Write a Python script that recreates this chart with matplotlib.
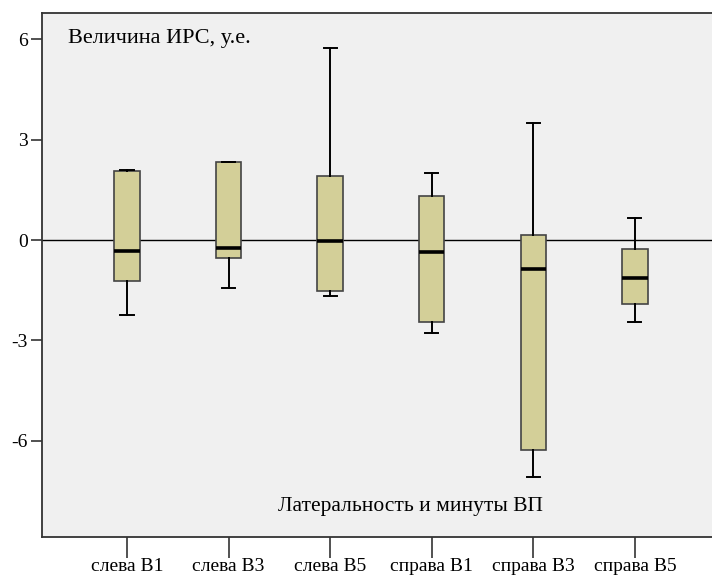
import matplotlib.pyplot as plt

# Box statistics (IRS value, arbitrary units)
categories = ["слева В1", "слева В3", "слева В5", "справа В1", "справа В3", "справа В5"]
whisker_low = [-2.24, -1.43, -1.67, -2.78, -7.07, -2.45]
q1 = [-1.22, -0.54, -1.52, -2.45, -6.27, -1.90]
median = [-0.33, -0.24, -0.03, -0.36, -0.87, -1.14]
q3 = [2.06, 2.33, 1.91, 1.31, 0.15, -0.26]
whisker_high = [2.08, 2.34, 5.73, 2.00, 3.49, 0.66]
yticks = [-6, -3, 0, 3, 6]

stats = []
for i, name in enumerate(categories):
    stats.append({"label": name, "whislo": whisker_low[i], "q1": q1[i], "med": median[i],
                  "q3": q3[i], "whishi": whisker_high[i], "fliers": []})

plt.rcParams["font.family"] = ["Liberation Serif", "DejaVu Serif"]

fig = plt.figure(figsize=(7.12, 5.76), dpi=100)
ax = fig.add_axes([42 / 712, 39 / 576, 670 / 712, 524 / 576])
ax.set_facecolor("#f0f0f0")

positions = list(range(1, len(categories) + 1))
ax.axhline(0, color="black", lw=1.0, zorder=1)
ax.bxp(stats, positions=positions, widths=0.25, patch_artist=True, showfliers=False,
       boxprops=dict(facecolor="#d3cf98", edgecolor="#444444", linewidth=1.2),
       medianprops=dict(color="black", linewidth=2.6),
       whiskerprops=dict(color="black", linewidth=1.4),
       capprops=dict(color="black", linewidth=1.4),
       capwidths=0.13, zorder=2)

ax.set_xlim(0.163, 6.76)
ax.set_ylim(-8.87, 6.78)
ax.set_yticks(yticks)
ax.set_yticklabels([str(t) for t in yticks], fontsize=14)
ax.set_xticks(positions)
ax.set_xticklabels(categories, fontsize=14)
ax.tick_params(axis="x", length=15, width=1.2, color="#333333", pad=0)
ax.tick_params(axis="y", length=8, width=1.2, color="#333333", pad=2)

for side in ["left", "bottom", "top"]:
    ax.spines[side].set_color("#333333")
    ax.spines[side].set_linewidth(1.3)
ax.spines["right"].set_visible(False)

ax.text(68, 537, "Величина ИРС, у.е.", transform=None, fontsize=16, va="center", ha="left")
ax.text(410, 69, "Латеральность и минуты ВП", transform=None, fontsize=15.5,
        va="center", ha="center")

fig.savefig("out.png", dpi=100)
